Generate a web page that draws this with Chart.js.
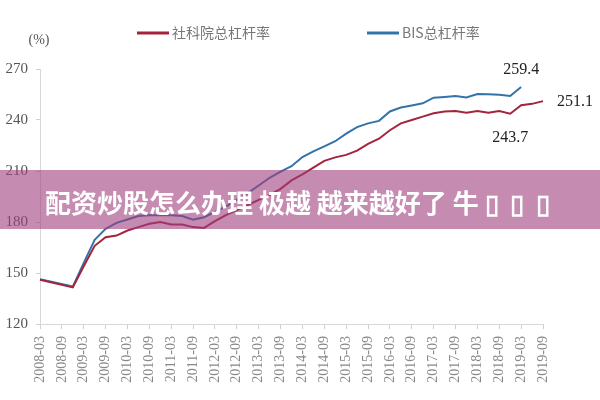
<!DOCTYPE html>
<html>
<head>
<meta charset="utf-8">
<script src="https://cdn.jsdelivr.net/npm/chart.js@4.4.0/dist/chart.umd.min.js"></script>
<style>
body { margin: 0; background: #fff; }
#wrap { position: relative; width: 600px; height: 400px; }
#banner {
    position: absolute; left: 0; top: 170px; width: 600px; height: 59px;
    background: rgba(158, 62, 123, 0.6); color: #fff;
    font: bold 26px "Noto Sans CJK SC", sans-serif; line-height: 63px;
    padding-left: 45px; box-sizing: border-box; white-space: pre;
}
</style>
</head>
<body>
<div id="wrap">
<canvas id="levChart" width="600" height="400"></canvas>
<div id="banner">配资炒股怎么办理 极越 越来越好了 牛 ▯  ▯  ▯</div>
</div>
<script>
var colorRed = '#a3243b';
var colorBlue = '#3473a8';

var quarters = ['2008-03', '2008-06', '2008-09', '2008-12', '2009-03', '2009-06', '2009-09', '2009-12',
    '2010-03', '2010-06', '2010-09', '2010-12', '2011-03', '2011-06', '2011-09', '2011-12',
    '2012-03', '2012-06', '2012-09', '2012-12', '2013-03', '2013-06', '2013-09', '2013-12',
    '2014-03', '2014-06', '2014-09', '2014-12', '2015-03', '2015-06', '2015-09', '2015-12',
    '2016-03', '2016-06', '2016-09', '2016-12', '2017-03', '2017-06', '2017-09', '2017-12',
    '2018-03', '2018-06', '2018-09', '2018-12', '2019-03', '2019-06', '2019-09'];

// 社科院总杠杆率
var cassData = [146, null, null, 141.5, 154, 166, 171, 172, 175, 177, 179, 180,
    178.5, 178.5, 177, 176.5, 180.5, 184, 187, 190, 193, 196, 199.5, 204.5,
    208, 212, 216, 218, 219.5, 222, 226, 229, 234, 238, 240, 242,
    244, 245, 245.3, 244.3, 245.3, 244.3, 245.3, 243.7, 248.7, 249.5, 251.1];

// BIS总杠杆率
var bisData = [146.3, null, null, 142, 156, 169.5, 176, 179.5, 181.5, 183.5, 184, 184,
    184, 183.5, 181.3, 182.8, 186, 189, 193, 197, 201.5, 206, 209.6, 212.8,
    218.2, 221.5, 224.5, 227.5, 232, 235.8, 238, 239.5, 245, 247.3, 248.5, 249.8,
    253.1, 253.6, 254.1, 253.3, 255.3, 255.2, 254.8, 254.1, 259.4];

var yTicks = [120, 150, 180, 210, 240, 270];
var legendX = [137, 367];

// legend row, unit label and value callouts
var extras = {
    id: 'extras',
    afterDraw: function(chart) {
        var ctx = chart.ctx, x = chart.scales.x, y = chart.scales.y;
        ctx.save();
        ctx.textBaseline = 'middle';

        ctx.font = '14px "Liberation Serif"';
        ctx.fillStyle = '#555';
        ctx.textAlign = 'center';
        ctx.fillText('(%)', 39, 40);

        chart.data.datasets.forEach(function(ds, i) {
            var lx = legendX[i];
            ctx.strokeStyle = ds.borderColor;
            ctx.lineWidth = 3;
            ctx.beginPath();
            ctx.moveTo(lx, 33);
            ctx.lineTo(lx + 32, 33);
            ctx.stroke();
            ctx.fillStyle = '#777';
            ctx.font = '14px "Noto Sans CJK SC"';
            ctx.textAlign = 'left';
            ctx.fillText(ds.label, lx + 35, 33);
        });

        ctx.font = '16px "Liberation Serif"';
        ctx.fillStyle = '#222';
        var bi = bisData.length - 1;
        ctx.textAlign = 'center';
        ctx.fillText(bisData[bi].toFixed(1), x.getPixelForValue(bi), y.getPixelForValue(bisData[bi]) - 17);
        var ri = cassData.length - 1;
        ctx.textAlign = 'left';
        ctx.fillText(cassData[ri].toFixed(1), x.getPixelForValue(ri) + 14, y.getPixelForValue(cassData[ri]) + 1);
        var di = 43;
        ctx.textAlign = 'center';
        ctx.fillText(cassData[di].toFixed(1), x.getPixelForValue(di), y.getPixelForValue(cassData[di]) + 24);
        ctx.restore();
    }
};

var ctx = document.getElementById('levChart').getContext('2d');

new Chart(ctx, {
    type: 'line',
    data: {
        labels: quarters,
        datasets: [{
            label: '社科院总杠杆率',
            data: cassData,
            borderColor: colorRed,
            borderWidth: 2
        }, {
            label: 'BIS总杠杆率',
            data: bisData,
            borderColor: colorBlue,
            borderWidth: 2
        }]
    },
    options: {
        responsive: false,
        animation: false,
        spanGaps: true,
        layout: { padding: { top: 69, right: 57, bottom: 0, left: 0 } },
        elements: {
            point: { radius: 0 },
            line: { tension: 0 }
        },
        plugins: {
            legend: { display: false },
            tooltip: { enabled: false }
        },
        scales: {
            x: {
                offset: false,
                border: { color: '#d8d8d8' },
                grid: {
                    drawOnChartArea: false,
                    tickLength: 5,
                    color: function(c) { return c.index % 2 === 0 ? '#d0d0d0' : 'rgba(0,0,0,0)'; }
                },
                ticks: {
                    autoSkip: false,
                    minRotation: 90,
                    maxRotation: 90,
                    padding: 7,
                    color: '#888',
                    font: { family: 'Liberation Serif', size: 14 },
                    callback: function(value, index) {
                        return index % 2 === 0 ? quarters[index] : '';
                    }
                },
                afterFit: function(s) { s.height = 76; }
            },
            y: {
                min: 120,
                max: 270,
                border: { color: '#d8d8d8' },
                grid: { drawOnChartArea: false, tickLength: 4, color: '#d0d0d0' },
                afterBuildTicks: function(s) {
                    s.ticks = yTicks.map(function(v) { return { value: v }; });
                },
                ticks: {
                    padding: 8,
                    color: '#555',
                    font: { family: 'Liberation Serif', size: 15 }
                },
                afterFit: function(s) { s.width = 40; }
            }
        }
    },
    plugins: [extras]
});
</script>
</body>
</html>
